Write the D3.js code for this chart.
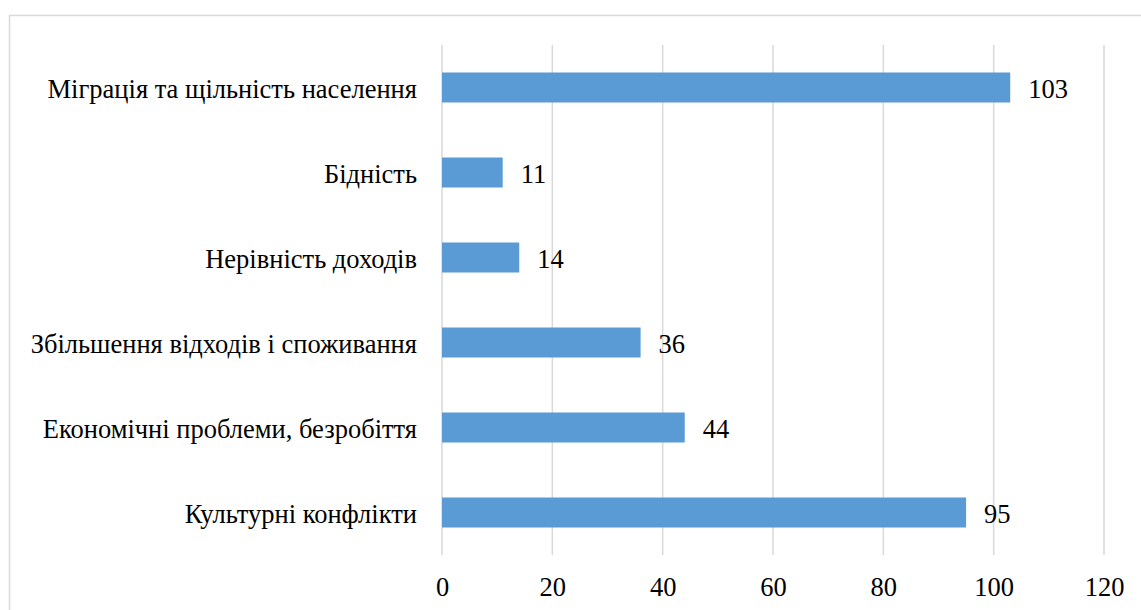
<!DOCTYPE html>
<html>
<head>
<meta charset="utf-8">
<script src="https://cdn.jsdelivr.net/npm/d3@7"></script>
<style>
  body { margin: 0; background: #fff; font-family: "Liberation Serif", "Times New Roman", serif; }
  svg text { font-family: "Liberation Serif", "Times New Roman", serif; }
</style>
</head>
<body>
<svg id="chart" width="1141" height="610" font-family="Liberation Serif"></svg>
<script>
// chart data
var categories = ["Міграція та щільність населення", "Бідність", "Нерівність доходів",
                  "Збільшення відходів і споживання", "Економічні проблеми, безробіття", "Культурні конфлікти"];
var values = [103, 11, 14, 36, 44, 95];
var ticks = [0, 20, 40, 60, 80, 100, 120];

var W = 1141, H = 610;
var font = "Liberation Serif", fontSize = 26.5;
var margin = {top: 45, right: 37, bottom: 55, left: 442},
    width = W - margin.left - margin.right,
    height = H - margin.top - margin.bottom;

var svg = d3.select("#chart");

// outer chart border (only top/left visible in crop)
svg.append("rect")
    .attr("x", 9.5).attr("y", 15.5)
    .attr("width", W + 20).attr("height", H + 20)
    .attr("fill", "none")
    .attr("stroke", "#d9d9d9")
    .attr("stroke-width", 1.5);

var g = svg.append("g")
    .attr("transform", "translate(" + margin.left + "," + margin.top + ")");

var x = d3.scaleLinear().domain([0, 120]).range([0, width]);
var y = d3.scaleBand().domain(categories).range([0, height])
    .paddingInner(0.647).paddingOuter(0.3235);

// gridlines
g.selectAll(".grid")
    .data(ticks)
  .enter().append("line")
    .attr("class", "grid")
    .attr("x1", function(d) { return x(d); })
    .attr("x2", function(d) { return x(d); })
    .attr("y1", 0)
    .attr("y2", height)
    .attr("stroke", "#d9d9d9")
    .attr("stroke-width", 1.5);

// x axis labels
var xAxis = g.append("g")
    .attr("transform", "translate(0," + height + ")")
    .call(d3.axisBottom(x).tickValues(ticks).tickSize(0).tickPadding(22));
xAxis.attr("font-family", font).attr("font-size", fontSize);
xAxis.select(".domain").remove();
xAxis.selectAll("text")
    .attr("font-family", font)
    .attr("fill", "#000");

// y axis labels
var yAxis = g.append("g")
    .call(d3.axisLeft(y).tickSize(0).tickPadding(25));
yAxis.attr("font-family", font).attr("font-size", fontSize);
yAxis.select(".domain").remove();
yAxis.selectAll("text")
    .attr("font-family", font)
    .attr("dy", ".4em")
    .attr("fill", "#000");

// bars
g.selectAll(".bar")
    .data(values)
  .enter().append("rect")
    .attr("class", "bar")
    .attr("x", 0)
    .attr("y", function(d, i) { return y(categories[i]); })
    .attr("height", y.bandwidth())
    .attr("width", function(d) { return x(d); })
    .attr("fill", "#5b9bd5");

// value labels
g.selectAll(".val")
    .data(values)
  .enter().append("text")
    .attr("class", "val")
    .attr("x", function(d) { return x(d) + 18; })
    .attr("y", function(d, i) { return y(categories[i]) + y.bandwidth() / 2; })
    .attr("dy", ".4em")
    .attr("font-family", font)
    .attr("font-size", fontSize)
    .attr("fill", "#000")
    .text(function(d) { return d; });
</script>
</body>
</html>
